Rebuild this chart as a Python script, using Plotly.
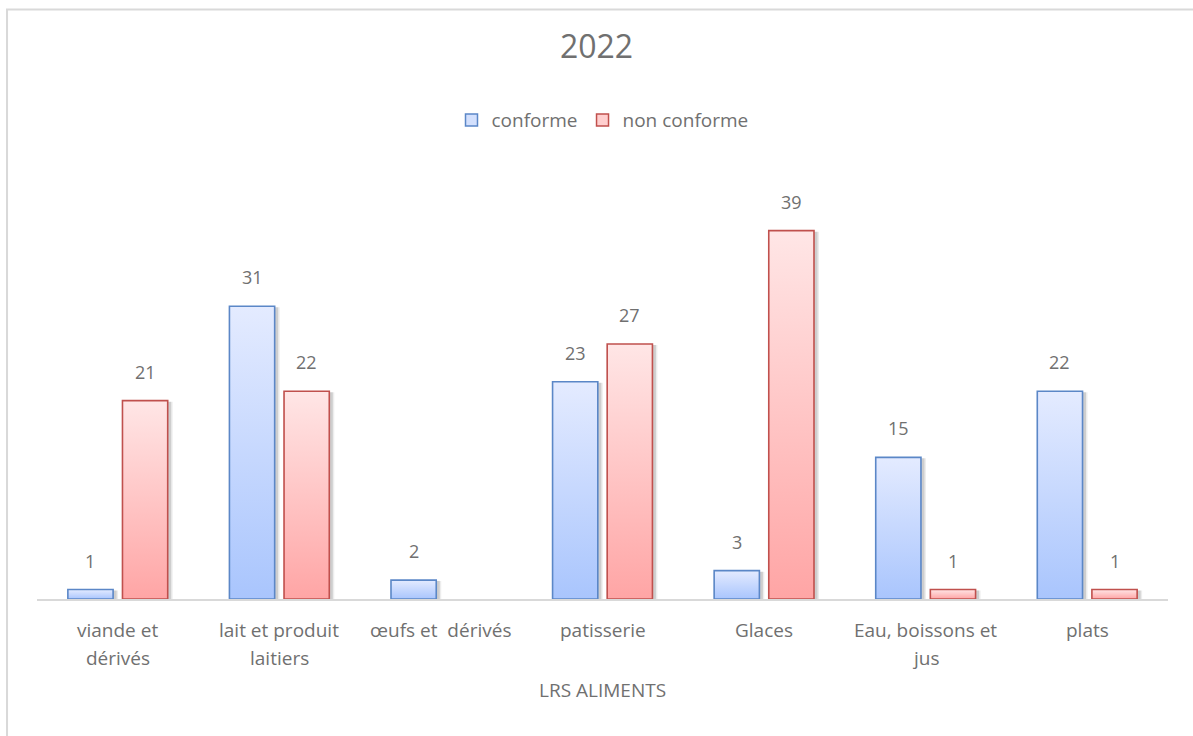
import plotly.graph_objects as go

# Data
categories = ["viande et<br>dérivés", "lait et produit<br>laitiers", "œufs et  dérivés",
              "patisserie", "Glaces", "Eau, boissons et<br>jus", "plats"]
conforme = [1, 31, 2, 23, 3, 15, 22]
non_conforme = [21, 22, None, 27, 39, 1, 1]
series_names = ["conforme", "non conforme"]
chart_title = "2022"
x_title = "LRS ALIMENTS"

# Styling
FONT = "Open Sans"
TXT = "#707070"
styles = {
    "conforme": dict(top="#e4ebff", bottom="#a9c5fd", line="#5b87c7", legend="#d3e0fd"),
    "non conforme": dict(top="#ffe6e6", bottom="#ffa5a5", line="#c0504d", legend="#ffcfcf"),
}
BAR_W = 0.28      # bar width in category units
OFFSET = 0.169    # distance of each bar centre from the category centre
PX_X = 1 / 161.6  # one pixel in x units
PX_Y = 1 / 9.44   # one pixel in y units

fig = go.Figure()

series = [("conforme", conforme, -OFFSET), ("non conforme", non_conforme, OFFSET)]

# soft drop shadows first so they sit under the bars
for name, vals, off in series:
    for i, v in enumerate(vals):
        if v is None:
            continue
        for k, a in ((4.0, 0.07), (2.5, 0.13)):
            x0 = i + off - BAR_W / 2 + PX_X * (1.5 - k / 2)
            x1 = i + off + BAR_W / 2 + PX_X * (1.0 + k)
            yt = v - PX_Y * 1.0
            fig.add_trace(go.Scatter(
                x=[x0, x0, x1, x1, x0], y=[0, yt, yt, 0, 0], mode="lines",
                fill="toself", fillcolor=f"rgba(0,0,0,{a})", line=dict(width=0),
                showlegend=False, hoverinfo="skip"))

# gradient-filled bars
for name, vals, off in series:
    st = styles[name]
    for i, v in enumerate(vals):
        if v is None:
            continue
        x0 = i + off - BAR_W / 2
        x1 = i + off + BAR_W / 2
        fig.add_trace(go.Scatter(
            x=[x0, x0, x1, x1, x0], y=[0, v, v, 0, 0], mode="lines",
            fill="toself",
            fillgradient=dict(type="vertical", start=0, stop=v,
                              colorscale=[[0, st["bottom"]], [1, st["top"]]]),
            line=dict(color=st["line"], width=1.6),
            showlegend=False, name=name,
            hovertemplate=f"{name}: {v}<extra></extra>"))
        fig.add_annotation(x=i + off, y=v, text=str(v), showarrow=False,
                           yshift=29, font=dict(family=FONT, size=18, color=TXT))

# legend entries
for name in series_names:
    st = styles[name]
    fig.add_trace(go.Scatter(
        x=[None], y=[None], mode="markers", name=name,
        marker=dict(symbol="square", size=12, color=st["legend"],
                    line=dict(color=st["line"], width=1.5))))

# category labels, one annotation per line
for i, cat in enumerate(categories):
    for j, line in enumerate(cat.split("<br>")):
        fig.add_annotation(x=i, y=0, yref="paper", text=line, showarrow=False,
                           yanchor="middle", yshift=-31 - 28 * j,
                           font=dict(family=FONT, size=19, color=TXT))

fig.add_annotation(x=0.5, xref="paper", y=0, yref="paper", text=x_title,
                   showarrow=False, yanchor="middle", yshift=-91,
                   font=dict(family=FONT, size=19, color=TXT))

# outer chart border
fig.add_shape(type="rect", xref="paper", yref="paper",
              x0=-0.0265, x1=1.05, y0=-0.6, y1=1.387,
              line=dict(color="#d9d9d9", width=2), fillcolor="rgba(0,0,0,0)")

fig.update_layout(
    width=1193, height=736,
    margin=dict(l=37, r=25, t=174, b=137),
    paper_bgcolor="white", plot_bgcolor="white",
    title=dict(text=chart_title, x=0.5, xanchor="center", y=1 - 47 / 736,
               yanchor="middle", font=dict(family=FONT, size=32, color=TXT)),
    legend=dict(orientation="h", x=0.5, xanchor="center", y=1.127, yanchor="middle",
                font=dict(family=FONT, size=19, color=TXT), itemwidth=30,
                bgcolor="rgba(0,0,0,0)"),
    xaxis=dict(range=[-0.5, 6.5], showticklabels=False, showgrid=False,
               zeroline=False, showline=True, linecolor="#d9d9d9", linewidth=1.5,
               ticks="", fixedrange=True),
    yaxis=dict(range=[0, 45], visible=False, showgrid=False, zeroline=False,
               fixedrange=True),
    showlegend=True,
)

fig.write_html("out.html")
